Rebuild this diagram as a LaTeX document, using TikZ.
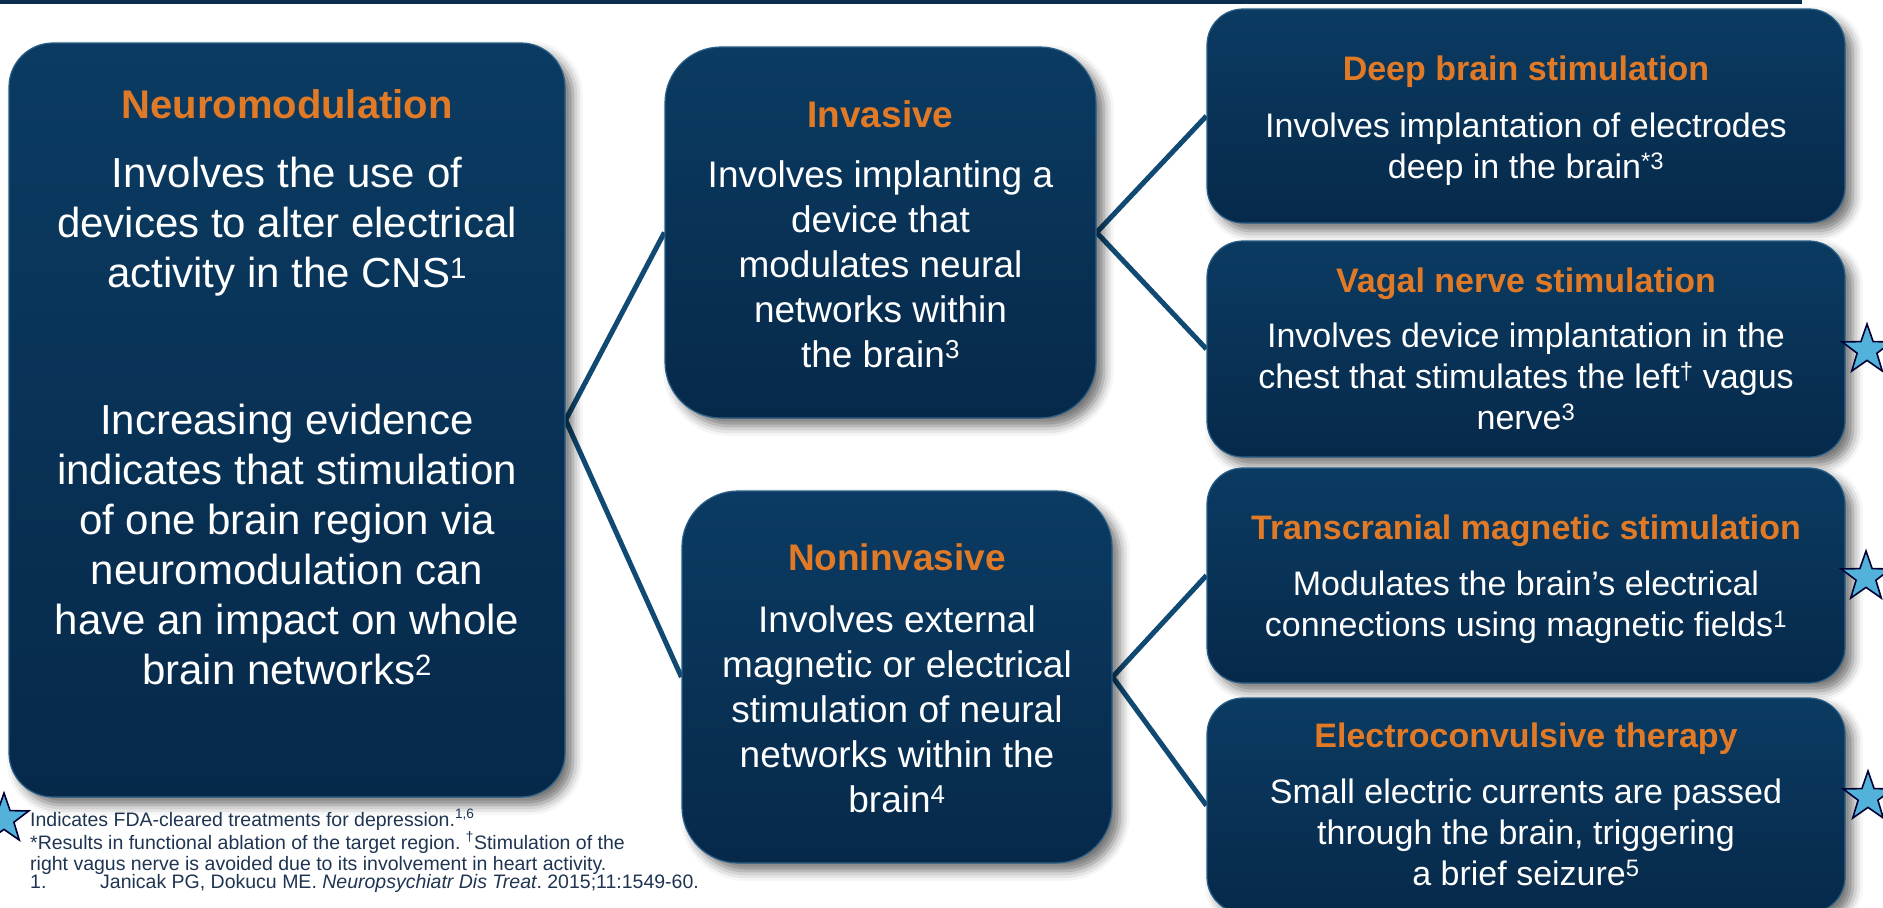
\documentclass[tikz,border=0pt]{standalone}
\usepackage{fontspec}
\setmainfont{Liberation Sans}
\usetikzlibrary{shapes.geometric}
\usetikzlibrary{shadows.blur}
\pgfdeclarelayer{edgelayer}
\pgfdeclarelayer{nodelayer}
\pgfsetlayers{edgelayer,nodelayer,main}
\definecolor{panelTop}{HTML}{0B3B62}
\definecolor{panelBottom}{HTML}{06294A}
\definecolor{panelRim}{HTML}{2A5F88}
\definecolor{headOrange}{HTML}{E07A27}
\definecolor{linkBlue}{HTML}{104A73}
\definecolor{barNavy}{HTML}{0B2E4E}
\definecolor{starBlue}{HTML}{52B2DA}
\definecolor{noteInk}{HTML}{1E3451}
\tikzstyle{panel}=[rectangle,rounded corners=36pt,top color=panelTop,bottom color=panelBottom,draw=panelRim,line width=1.2pt,inner sep=0pt,blur shadow={shadow xshift=8pt,shadow yshift=-8pt,shadow blur radius=10pt,shadow opacity=55}]
\tikzstyle{heading}=[anchor=base,text=headOrange,inner sep=0pt]
\tikzstyle{body}=[anchor=north,text=white,align=center,inner sep=0pt]
\tikzstyle{headL}=[font=\fontsize{40}{48}\selectfont\bfseries]
\tikzstyle{headM}=[font=\fontsize{37}{45}\selectfont\bfseries]
\tikzstyle{headS}=[font=\fontsize{34}{41}\selectfont\bfseries]
\tikzstyle{bodyL}=[font=\fontsize{42}{50}\selectfont]
\tikzstyle{bodyM}=[font=\fontsize{37}{45}\selectfont]
\tikzstyle{bodyS}=[font=\fontsize{34}{41}\selectfont]
\tikzstyle{branch}=[draw=linkBlue,line width=5pt]
\tikzstyle{fdastar}=[star,star points=5,star point ratio=2.5,minimum size=52pt,inner sep=0pt,fill=starBlue,draw=black!80!blue,line width=1.6pt]
\tikzstyle{note}=[anchor=base west,text=noteInk,inner sep=0pt,font=\fontsize{19.5}{22}\selectfont\frenchspacing]

\begin{document}
\begin{tikzpicture}[x=1pt,y=-1pt]
	\useasboundingbox (0,0) rectangle (1883,908);
	\fill [barNavy] (0,0) rectangle (1802,4);
	\begin{pgfonlayer}{nodelayer}
		\node [style=panel, minimum width=556pt, minimum height=754pt, rounded corners=44pt] (0) at (287, 420) {};
		\node [style=panel, minimum width=431pt, minimum height=371pt, rounded corners=56pt] (1) at (880.5, 232.5) {};
		\node [style=panel, minimum width=430pt, minimum height=372pt, rounded corners=56pt] (2) at (897, 677) {};
		\node [style=panel, minimum width=638pt, minimum height=214pt] (3) at (1526, 116) {};
		\node [style=panel, minimum width=638pt, minimum height=216pt] (4) at (1526, 349) {};
		\node [style=panel, minimum width=638pt, minimum height=215pt] (5) at (1526, 575.5) {};
		\node [style=panel, minimum width=638pt, minimum height=215pt] (6) at (1526, 805.5) {};
		\node [style=fdastar] (7) at (1867, 350) {};
		\node [style=fdastar] (8) at (1866, 577) {};
		\node [style=fdastar] (9) at (1868, 797) {};
		\node [style=fdastar] (10) at (4, 819) {};
	\end{pgfonlayer}
	\begin{pgfonlayer}{edgelayer}
		\draw [style=branch] (0.east) to (1.west);
		\draw [style=branch] (0.east) to (2.west);
		\draw [style=branch] (1.east) to (3.west);
		\draw [style=branch] (1.east) to (4.west);
		\draw [style=branch] (2.east) to (5.west);
		\draw [style=branch] (2.east) to (6.west);
	\end{pgfonlayer}
	% left panel
	\node [style=heading, headL] (11) at (287, 118) {Neuromodulation};
	\node [style=body, bodyL] (12) at (287, 157) {Involves the use of\\devices to alter electrical\\activity in the CNS\textsuperscript{1}};
	\node [style=body, bodyL] (13) at (287, 404) {Increasing evidence\\indicates that stimulation\\of one brain region via\\neuromodulation can\\have an impact on whole\\brain networks\textsuperscript{2}};
	% middle panels
	\node [style=heading, headM] (14) at (880.5, 127) {Invasive};
	\node [style=body, bodyM] (15) at (880.5, 160.4) {Involves implanting a\\device that\\modulates neural\\networks within\\the brain\textsuperscript{3}};
	\node [style=heading, headM] (16) at (897, 570) {Noninvasive};
	\node [style=body, bodyM] (17) at (897, 605.4) {Involves external\\magnetic or electrical\\stimulation of neural\\networks within the\\brain\textsuperscript{4}};
	% right panels
	\node [style=heading, headS] (18) at (1526, 80) {Deep brain stimulation};
	\node [style=body, bodyS] (19) at (1526, 112.5) {Involves implantation of electrodes\\deep in the brain\textsuperscript{*3}};
	\node [style=heading, headS] (20) at (1526, 292) {Vagal nerve stimulation};
	\node [style=body, bodyS] (21) at (1526, 322.5) {Involves device implantation in the\\chest that stimulates the left\textsuperscript{†} vagus\\nerve\textsuperscript{3}};
	\node [style=heading, headS] (22) at (1526, 539) {Transcranial magnetic stimulation};
	\node [style=body, bodyS] (23) at (1526, 570.5) {Modulates the brain’s electrical\\connections using magnetic fields\textsuperscript{1}};
	\node [style=heading, headS] (24) at (1526, 747) {Electroconvulsive therapy};
	\node [style=body, bodyS] (25) at (1526, 778.5) {Small electric currents are passed\\through the brain, triggering\\a brief seizure\textsuperscript{5}};
	% footnotes
	\node [style=note] (26) at (30, 826) {Indicates FDA-cleared treatments for depression.\textsuperscript{1,6}};
	\node [style=note] (27) at (30, 849) {*Results in functional ablation of the target region. \textsuperscript{†}Stimulation of the};
	\node [style=note] (28) at (30, 870) {right vagus nerve is avoided due to its involvement in heart activity.};
	\node [style=note] (29) at (30, 888) {\makebox[70pt][l]{1.}Janicak PG, Dokucu ME. \textit{Neuropsychiatr Dis Treat}. 2015;11:1549-60.};
\end{tikzpicture}
\end{document}
